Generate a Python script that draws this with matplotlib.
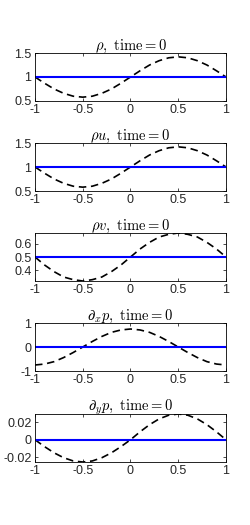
import matplotlib
matplotlib.use("Agg")
import matplotlib.pyplot as plt

plt.rcParams['mathtext.fontset'] = 'cm'
plt.rcParams['font.family'] = ['Liberation Sans', 'DejaVu Sans']

# ---- data ----
x = [-1.0, -0.9, -0.8, -0.7, -0.6, -0.5, -0.4, -0.3, -0.2, -0.1, 0.0,
     0.1, 0.2, 0.3, 0.4, 0.5, 0.6, 0.7, 0.8, 0.9, 1.0]

rho_exact = [1.00, 0.87, 0.75, 0.66, 0.60, 0.58, 0.60, 0.66, 0.75, 0.87, 1.00,
             1.13, 1.25, 1.34, 1.40, 1.42, 1.40, 1.34, 1.25, 1.13, 1.00]
rhou_exact = [1.00, 0.87, 0.75, 0.66, 0.60, 0.58, 0.60, 0.66, 0.75, 0.87, 1.00,
              1.13, 1.25, 1.34, 1.40, 1.42, 1.40, 1.34, 1.25, 1.13, 1.00]
rhov_exact = [0.50, 0.44, 0.39, 0.35, 0.33, 0.32, 0.33, 0.35, 0.39, 0.44, 0.50,
              0.56, 0.61, 0.65, 0.67, 0.68, 0.67, 0.65, 0.61, 0.56, 0.50]
dxp_exact = [-0.75, -0.71, -0.61, -0.44, -0.23, 0.00, 0.23, 0.44, 0.61, 0.71, 0.75,
             0.71, 0.61, 0.44, 0.23, 0.00, -0.23, -0.44, -0.61, -0.71, -0.75]
dyp_exact = [0.0, -0.0079, -0.0150, -0.0206, -0.0243, -0.0255, -0.0243, -0.0206, -0.0150, -0.0079, 0.0,
             0.0091, 0.0173, 0.0239, 0.0281, 0.0295, 0.0281, 0.0239, 0.0173, 0.0091, 0.0]

rho_num = [1.0] * len(x)
rhou_num = [1.0] * len(x)
rhov_num = [0.5] * len(x)
dxp_num = [0.0] * len(x)
dyp_num = [0.0] * len(x)

titles = [r'$\rho,\ \mathrm{time} = 0$', r'$\rho u,\ \mathrm{time} = 0$',
          r'$\rho v,\ \mathrm{time} = 0$', r'$\partial_x p,\ \mathrm{time} = 0$',
          r'$\partial_y p,\ \mathrm{time} = 0$']
xticks = [-1, -0.5, 0, 0.5, 1]
xticklabels = ['-1', '-0.5', '0', '0.5', '1']
yticks = [[0.5, 1, 1.5], [0.5, 1, 1.5], [0.4, 0.5, 0.6], [-1, 0, 1], [-0.02, 0, 0.02]]
yticklabels = [['0.5', '1', '1.5'], ['0.5', '1', '1.5'], ['0.4', '0.5', '0.6'],
               ['-1', '0', '1'], ['-0.02', '0', '0.02']]
ylims = [(0.5, 1.5), (0.5, 1.5), (min(rhov_exact), max(rhov_exact)), (-1, 1),
         (min(dyp_exact), max(dyp_exact))]

exact = [rho_exact, rhou_exact, rhov_exact, dxp_exact, dyp_exact]
num = [rho_num, rhou_num, rhov_num, dxp_num, dyp_num]

W, H = 251, 525
fig = plt.figure(figsize=(W / 100, H / 100), dpi=100)
tops = [53, 143, 233, 323, 414]
left, right = 35, 226
height = 48

for i in range(5):
    ax = fig.add_axes([left / W, 1 - (tops[i] + height) / H, (right - left) / W, height / H])
    ax.plot(x, exact[i], color='k', lw=1.2, dashes=(4.5, 2.8))
    ax.plot(x, num[i], color='#0000ff', lw=1.5)
    ax.set_xlim(-1, 1)
    ax.set_ylim(*ylims[i])
    ax.set_xticks(xticks)
    ax.set_xticklabels(xticklabels)
    ax.set_yticks(yticks[i])
    ax.set_yticklabels(yticklabels[i])
    ax.tick_params(direction='in', length=2.5, width=0.5, labelsize=9, pad=2.5,
                   top=True, right=True, colors='k', labelcolor='#262626')
    for s in ax.spines.values():
        s.set_linewidth(0.6)
    ax.set_title(titles[i], fontsize=10.5, pad=2.5)

fig.savefig('out.png', dpi=100)
